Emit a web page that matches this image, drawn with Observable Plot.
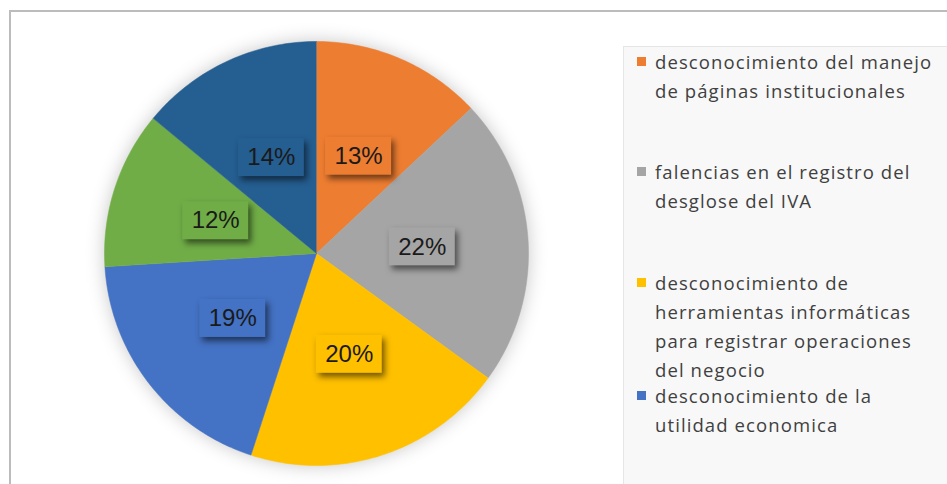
<!DOCTYPE html>
<html>
<head>
<meta charset="utf-8">
<script src="https://cdn.jsdelivr.net/npm/d3@7"></script>
<script src="https://cdn.jsdelivr.net/npm/@observablehq/plot@0.6"></script>
<style>
  html, body { margin: 0; padding: 0; background: #fff; }
  #wrap { position: relative; width: 947px; height: 484px; overflow: hidden; background: #fff; }
  #frame { position: absolute; left: 9px; top: 10px; width: 960px; height: 500px; border: 2px solid #bcbcbc; box-sizing: border-box; }
  #chart { position: absolute; left: 0; top: 0; }
  #chart svg g[aria-label="line"] { filter: drop-shadow(0px 0px 9px rgba(0,0,0,0.22)); }
  #chart svg g[aria-label="rect"] { filter: drop-shadow(3px 4px 3px rgba(0,0,0,0.55)); }
  #legend { position: absolute; left: 623px; top: 46px; width: 340px; height: 460px; background: #f8f8f8; border: 1px solid #e6e6e6; box-sizing: border-box;
            font-family: "Open Sans", sans-serif; font-size: 18.5px; color: #404040; line-height: 29px; letter-spacing: 1.1px; white-space: nowrap; }
  .item { position: absolute; left: 31px; width: 320px; }
  .sw { position: absolute; left: -18px; top: 10px; width: 9px; height: 9px; }
</style>
</head>
<body>
<div id="wrap">
  <div id="frame"></div>
  <div id="chart"></div>
  <div id="legend"></div>
</div>
<script>
// Data (slices clockwise from 12 o'clock)
const categories = [
  "desconocimiento del manejo de páginas institucionales",
  "falencias en el registro del desglose del IVA",
  "desconocimiento de herramientas informáticas para registrar operaciones del negocio",
  "desconocimiento de la utilidad economica",
  "categoría 5",
  "categoría 6"
];
const values = [13, 22, 20, 19, 12, 14];
const labels = ["13%", "22%", "20%", "19%", "12%", "14%"];
const colors = ["#ED7D31", "#A5A5A5", "#FFC000", "#4472C4", "#70AD47", "#255E91"];
// legend lines as visible in the picture (first four entries)
const legendLines = [
  ["desconocimiento del manejo", "de páginas institucionales"],
  ["falencias en el registro del", "desglose del IVA"],
  ["desconocimiento de", "herramientas informáticas", "para registrar operaciones", "del negocio"],
  ["desconocimiento de la", "utilidad economica"]
];
const legendTops = [0, 110, 221, 334];

// Build pie geometry from values with d3.pie
const arcs = d3.pie().sort(null).value(d => d)(values);
const outline = [];
arcs.forEach((a, i) => {
  const n = Math.max(8, Math.ceil((a.endAngle - a.startAngle) * 60));
  outline.push({k: categories[i], x: 0, y: 0});
  for (let j = 0; j <= n; j++) {
    const t = a.startAngle + (a.endAngle - a.startAngle) * j / n;
    outline.push({k: categories[i], x: Math.sin(t), y: -Math.cos(t)});
  }
});
const boxW = 33 / 212, boxH = 19 / 212;
const labelData = arcs.map((a, i) => {
  const m = (a.startAngle + a.endAngle) / 2;
  const x = 0.5 * Math.sin(m), y = -0.5 * Math.cos(m);
  return {k: categories[i], label: labels[i], x, y, x1: x - boxW, x2: x + boxW, y1: y - boxH, y2: y + boxH};
});

const plot = Plot.plot({
  width: 947,
  height: 484,
  margin: 0,
  x: {domain: [-1, 1], range: [104, 528], axis: null},
  y: {domain: [-1, 1], range: [41, 465], axis: null},
  color: {domain: categories, range: colors},
  marks: [
    Plot.line(outline, {x: "x", y: "y", z: "k", fill: "k", stroke: "k", strokeWidth: 0.5, curve: "linear"}),
    Plot.rect(labelData, {x1: "x1", x2: "x2", y1: "y1", y2: "y2", fill: "k"}),
    Plot.text(labelData, {x: "x", y: "y", text: "label", fill: "#1a1a1a", fontSize: 24, fontFamily: "'Liberation Sans', Arial, sans-serif"})
  ]
});
document.getElementById("chart").appendChild(plot);

// Legend
const leg = document.getElementById("legend");
legendLines.forEach((lines, i) => {
  const it = document.createElement("div");
  it.className = "item";
  it.style.top = legendTops[i] + "px";
  const sw = document.createElement("span");
  sw.className = "sw";
  sw.style.background = colors[i];
  it.appendChild(sw);
  lines.forEach(l => {
    const d = document.createElement("div");
    d.textContent = l;
    it.appendChild(d);
  });
  leg.appendChild(it);
});
</script>
</body>
</html>
